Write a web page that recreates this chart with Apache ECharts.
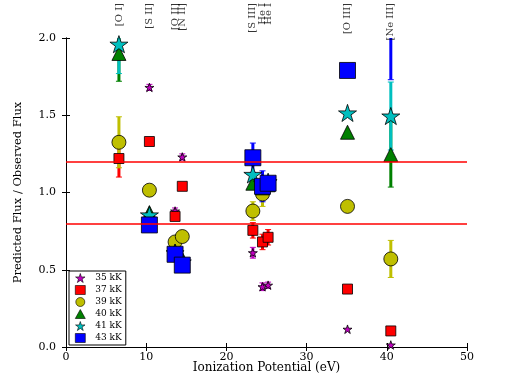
<!DOCTYPE html>
<html>
<head>
<meta charset="utf-8">
<script src="https://cdn.jsdelivr.net/npm/echarts@6/dist/echarts.min.js"></script>
<style>
  html, body { margin: 0; padding: 0; background: #fff; }
  #chart { width: 519px; height: 387px; }
</style>
</head>
<body>
<div id="chart"></div>
<script>
// emission lines and their ionization potential (eV)
var ionNames = ['[O I]', '[S II]', '[O II]', '[N II]', '[S III]', 'He I', 'He I', '[O III]', '[Ne III]'];
var ionX = [6.6, 10.4, 13.6, 14.5, 23.3, 24.5, 25.2, 35.1, 40.5];

// predicted / observed flux for each model temperature (null = not shown)
var k35 = [null, 1.68, 0.88, 1.23, 0.61, 0.39, 0.40, 0.115, 0.013];
var k37 = [1.22, 1.33, 0.845, 1.04, 0.755, 0.68, 0.71, 0.375, 0.104];
var k39 = [1.325, 1.015, 0.68, 0.715, 0.88, 0.99, 1.06, 0.91, 0.57];
var k40 = [1.90, 0.87, 0.62, 0.57, 1.06, 1.03, 1.05, 1.39, 1.245];
var k41 = [1.96, 0.855, 0.61, 0.55, 1.117, 1.06, 1.07, 1.515, 1.495];
var k43 = [null, 0.79, 0.60, 0.53, 1.225, 1.04, 1.06, 1.79, 2.25];

// symmetric error bars (null = no bar)
var e35 = [null, 0.02, 0.02, 0.02, 0.035, 0.025, 0.02, null, null];
var e37 = [0.12, null, null, null, 0.05, 0.05, 0.05, null, null];
var e39 = [0.165, null, null, null, 0.06, 0.08, null, null, 0.12];
var e40 = [0.18, null, null, null, null, null, null, null, 0.21];
var e41 = [0.19, null, null, null, null, null, null, null, 0.22];
var e43 = [null, null, null, null, 0.095, 0.10, null, null, 0.52];

var thresholds = [0.8, 1.2];

// star marker path
function starPath() {
    var pts = [];
    for (var i = 0; i < 10; i++) {
        var r = (i % 2 === 0) ? 50 : 19.1;
        var a = -Math.PI / 2 + i * Math.PI / 5;
        pts.push((50 + r * Math.cos(a)).toFixed(2) + ' ' + (50 + r * Math.sin(a)).toFixed(2));
    }
    return 'path://M' + pts.join(' L') + ' Z';
}
var STAR = starPath();

var models = [
    {name: '35 kK', vals: k35, errs: e35, color: '#bf00bf', symbol: STAR, size: 9},
    {name: '37 kK', vals: k37, errs: e37, color: '#ff0000', symbol: 'rect', size: 10},
    {name: '39 kK', vals: k39, errs: e39, color: '#bfbf00', symbol: 'circle', size: 14},
    {name: '40 kK', vals: k40, errs: e40, color: '#008000', symbol: 'triangle', size: 14},
    {name: '41 kK', vals: k41, errs: e41, color: '#00bfbf', symbol: STAR, size: 18},
    {name: '43 kK', vals: k43, errs: e43, color: '#0000ff', symbol: 'rect', size: 16}
];

var FONT = 'DejaVu Serif';

function errRenderer(color) {
    return function (params, api) {
        var x = api.value(0);
        var top = api.coord([x, api.value(2)]);
        var bot = api.coord([x, api.value(1)]);
        var cw = 3;
        return {
            type: 'group',
            children: [
                {type: 'line', shape: {x1: top[0], y1: top[1], x2: bot[0], y2: bot[1]}, style: {stroke: color, lineWidth: 3}},
                {type: 'line', shape: {x1: top[0] - cw, y1: top[1], x2: top[0] + cw, y2: top[1]}, style: {stroke: color, lineWidth: 1}},
                {type: 'line', shape: {x1: bot[0] - cw, y1: bot[1], x2: bot[0] + cw, y2: bot[1]}, style: {stroke: color, lineWidth: 1}}
            ]
        };
    };
}

// error bars first, markers on top of them
var barSeries = [], markSeries = [];
models.forEach(function (m) {
    var pts = [], bars = [];
    for (var i = 0; i < ionX.length; i++) {
        if (m.vals[i] == null) continue;
        pts.push([ionX[i], m.vals[i]]);
        if (m.errs[i] != null) bars.push([ionX[i], m.vals[i] - m.errs[i], m.vals[i] + m.errs[i]]);
    }
    barSeries.push({
        type: 'custom',
        name: m.name + ' err',
        renderItem: errRenderer(m.color),
        data: bars,
        clip: true,
        silent: true
    });
    markSeries.push({
        type: 'scatter',
        name: m.name,
        data: pts,
        symbol: m.symbol,
        symbolSize: m.size,
        symbolKeepAspect: true,
        clip: true,
        itemStyle: {color: m.color, borderColor: '#000', borderWidth: 0.8, opacity: 1}
    });
});
var series = barSeries.concat(markSeries);

// red reference lines
series.push({
    type: 'line',
    data: [],
    z: 10,
    markLine: {
        silent: true,
        symbol: ['none', 'none'],
        label: {show: false},
        lineStyle: {color: '#ff0000', width: 1.5, type: 'solid'},
        data: thresholds.map(function (t) { return {yAxis: t}; })
    }
});

// line labels along the top
series.push({
    type: 'scatter',
    name: 'ions',
    data: ionX.map(function (x, i) { return {value: [x, 2.0], name: ionNames[i]}; }),
    symbolSize: 0,
    clip: false,
    silent: true,
    label: {
        show: true,
        position: 'inside',
        rotate: 90,
        align: 'right',
        verticalAlign: 'middle',
        offset: [35, 0],
        formatter: '{b}',
        color: '#000',
        fontFamily: FONT,
        fontSize: 10
    }
});

var axisCommon = {
    axisLine: {lineStyle: {color: '#000', width: 1}},
    axisTick: {inside: true, length: 4, lineStyle: {color: '#000'}},
    splitLine: {show: false}
};

var option = {
    animation: false,
    backgroundColor: '#fff',
    grid: {left: 66, right: 52, top: 38, bottom: 40},
    legend: {
        data: models.map(function (m) {
            return {name: m.name, icon: m.symbol,
                itemStyle: {color: m.color, borderColor: '#000', borderWidth: 0.6}};
        }),
        orient: 'vertical',
        left: 69,
        top: 271,
        padding: [2, 4, 2, 6],
        itemGap: 2,
        itemWidth: 10,
        itemHeight: 9,
        borderColor: '#000',
        borderWidth: 1,
        borderRadius: 0,
        backgroundColor: '#fff',
        textStyle: {fontFamily: FONT, fontSize: 9, lineHeight: 10, color: '#000', padding: [0, 0, 0, 5]}
    },
    xAxis: [
        Object.assign({
            type: 'value', min: 0, max: 50, interval: 10, position: 'bottom',
            name: 'Ionization Potential (eV)', nameLocation: 'middle', nameGap: 15,
            nameMoveOverlap: false,
            nameTextStyle: {fontFamily: FONT, fontSize: 12, color: '#000', verticalAlign: 'top'},
            axisLabel: {fontFamily: FONT, fontSize: 11, color: '#000', margin: 5}
        }, axisCommon),
        Object.assign({
            type: 'value', min: 0, max: 50, interval: 10, position: 'top',
            axisLabel: {show: false}
        }, axisCommon)
    ],
    yAxis: [
        Object.assign({
            type: 'value', min: 0, max: 2, interval: 0.5, position: 'left',
            name: 'Predicted Flux / Observed Flux', nameLocation: 'middle', nameGap: 42,
            nameTextStyle: {fontFamily: FONT, fontSize: 11.5, color: '#000'},
            axisLabel: {fontFamily: FONT, fontSize: 11, color: '#000', margin: 10,
                formatter: function (v) { return v.toFixed(1); }}
        }, axisCommon),
        Object.assign({
            type: 'value', min: 0, max: 2, interval: 0.5, position: 'right',
            axisLabel: {show: false}
        }, axisCommon)
    ],
    series: series
};

var chart = echarts.init(document.getElementById('chart'));
chart.setOption(option);
</script>
</body>
</html>
